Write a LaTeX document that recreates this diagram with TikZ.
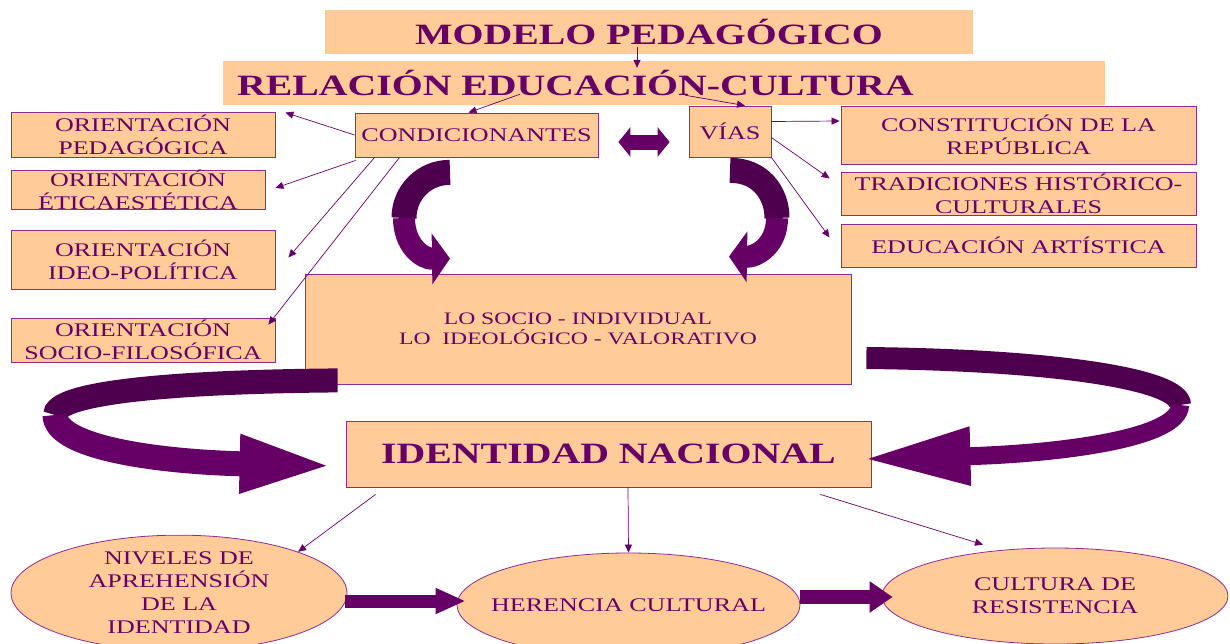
\documentclass[tikz,border=0pt]{standalone}
\usepackage{fontspec}
\setmainfont{Liberation Serif}[FakeStretch=1.35]
\usetikzlibrary{arrows.meta,shapes.geometric,calc}
\definecolor{morado}{HTML}{660066}
\definecolor{oscuro}{HTML}{4E004E}
\definecolor{durazno}{HTML}{FFCC99}
\definecolor{borde}{HTML}{8E2C8E}

\begin{document}
\begin{tikzpicture}[x=1pt,y=-1pt,
  caja/.style={draw=borde,fill=durazno,text=morado,line width=0.8pt,inner sep=2pt,align=center,font=\fontsize{19.3}{23}\selectfont},
  titulo/.style={fill=durazno,text=morado,inner sep=0pt,minimum height=44pt,font=\fontsize{29.5}{32}\selectfont\bfseries},
  elipse/.style={caja,ellipse,inner sep=0pt},
  enlace/.style={draw=morado,line width=0.7pt,-{Triangle[length=8pt,width=7pt]}}
]
  \useasboundingbox (0,0) rectangle (1230,643);

  \node[titulo,minimum width=648pt] (mp) at (649,32) {MODELO PEDAGÓGICO};
  \node[titulo,text width=854pt,inner xsep=14pt,align=left] (rec) at (664,83) {RELACIÓN EDUCACIÓN-CULTURA};

  \node[caja,minimum width=243pt,minimum height=44pt] (cond) at (476.5,135) {CONDICIONANTES};
  \node[caja,minimum width=82pt,minimum height=51pt] (vias) at (730,131.5) {VÍAS};

  \node[caja,minimum width=264pt,minimum height=45pt] (op) at (143,134.5) {ORIENTACIÓN\\PEDAGÓGICA};
  \node[caja,minimum width=254pt,minimum height=38pt,inner ysep=0pt] (oe) at (138,190) {ORIENTACIÓN\\ÉTICAESTÉTICA};
  \node[caja,minimum width=264pt,minimum height=59pt] (oi) at (143,259.5) {ORIENTACIÓN\\IDEO-POLÍTICA};
  \node[caja,minimum width=264pt,minimum height=44pt] (os) at (143,340) {ORIENTACIÓN\\SOCIO-FILOSÓFICA};

  \node[caja,minimum width=355pt,minimum height=58pt] (cons) at (1018.5,135) {CONSTITUCIÓN DE LA\\REPÚBLICA};
  \node[caja,minimum width=355pt,minimum height=43pt,inner ysep=0pt] (trad) at (1018.5,193.5) {TRADICIONES HISTÓRICO-\\CULTURALES};
  \node[caja,minimum width=355pt,minimum height=43pt] (educ) at (1018.5,245.5) {EDUCACIÓN ARTÍSTICA};

  \node[caja,minimum width=546pt,minimum height=110pt,font=\fontsize{17.5}{20}\selectfont] (socio) at (578,329) {LO SOCIO - INDIVIDUAL\\LO\ \ IDEOLÓGICO - VALORATIVO};
  \node[caja,minimum width=525pt,minimum height=66pt,font=\fontsize{29.5}{32}\selectfont\bfseries] (ident) at (608.5,454) {IDENTIDAD NACIONAL};

  \node[elipse,minimum width=336pt,minimum height=112pt] (niv) at (179,593) {NIVELES DE\\APREHENSIÓN\\DE LA\\IDENTIDAD};
  \node[elipse,minimum width=343pt,minimum height=104pt,inner xsep=-30pt] (her) at (628.5,605) {HERENCIA CULTURAL};
  \node[elipse,minimum width=346pt,minimum height=96pt] (cul) at (1055,596) {CULTURA DE\\RESISTENCIA};

  \draw[enlace] ($(mp.south)+(-12,-7)$) -- ($(rec.north)+(-27,7)$);
  \draw[enlace] ($(rec.south)+(-144,-11)$) -- ($(cond.north)+(-8,0)$);
  \draw[enlace] ($(rec.south)+(21,-10)$) -- ($(vias.north)+(15,0)$);
  \draw[enlace] (cond.west) -- ($(op.north east)+(10,1)$);
  \draw[enlace] ($(cond.south west)+(1,3)$) -- ($(oe.east)+(10,-2)$);
  \draw[enlace] ($(cond.south west)+(20,0)$) -- ($(oi.east)+(13,-2)$);
  \draw[enlace] ($(cond.south west)+(45,0)$) -- ($(os.north east)+(-7,7)$);
  \draw[enlace] ($(vias.east)+(0,-10)$) -- ($(cons.west)+(-1,-14)$);
  \draw[enlace] ($(vias.east)+(0,6)$) -- ($(trad.west)+(-11,-15)$);
  \draw[enlace] (vias.south east) -- ($(educ.west)+(-11,-8)$);
  \draw[enlace] ($(ident.south west)+(30,7)$) -- (niv.north east);
  \draw[enlace] ($(ident.south)+(19.5,0)$) -- (her.north);
  \draw[enlace] ($(ident.south east)+(-51,7)$) -- ($(cul.north)+(-72,-3)$);

  \draw[morado,line width=15pt,{Triangle[length=12pt,width=29pt]}-{Triangle[length=12pt,width=29pt]}] ($(cond.east)+(20,7)$) -- ($(vias.west)+(-19,10.5)$);
  \draw[morado,line width=13pt,-{Triangle[length=30pt,width=24pt]}] ($(niv.east)+(-2,8)$) -- ($(her.west)+(9,-4)$);
  \draw[morado,line width=14pt,-{Triangle[length=23pt,width=30pt]}] ($(her.east)+(0,-8)$) -- ($(cul.west)+(11,1)$);

  \draw[oscuro,line width=25pt] ($(cond.south)+(-26.5,15)$) .. controls (425,172) and (404,192) .. (404,218);
  \draw[morado,line width=22pt,-{Triangle[length=18pt,width=50pt]}] (404,218) .. controls (404,245) and (422,259) .. ($(socio.north)+(-128,-15)$);
  \draw[oscuro,line width=25pt] ($(vias.south)+(0,13)$) .. controls (760,170) and (777,193) .. (777,218);
  \draw[morado,line width=22pt,-{Triangle[length=18pt,width=50pt]}] (777,218) .. controls (777,245) and (757,257) .. ($(socio.north)+(151,-17)$);

  \draw[oscuro,line width=24pt] ($(socio.south west)+(33,-4)$) .. controls (150,382) and (55,395) .. (55,415);
  \draw[morado,line width=25pt,-{Triangle[length=98pt,width=51pt]}] (55,415) .. controls (55,448) and (160,462) .. ($(ident.west)+(-8,12)$);
  \draw[oscuro,line width=22pt] ($(socio.east)+(15,29)$) .. controls (1060,360) and (1180,380) .. (1180,405);
  \draw[morado,line width=18pt,-{Triangle[length=107pt,width=54pt]}] (1180,405) .. controls (1180,440) and (1050,454) .. ($(ident.east)+(-8,5)$);
\end{tikzpicture}
\end{document}
